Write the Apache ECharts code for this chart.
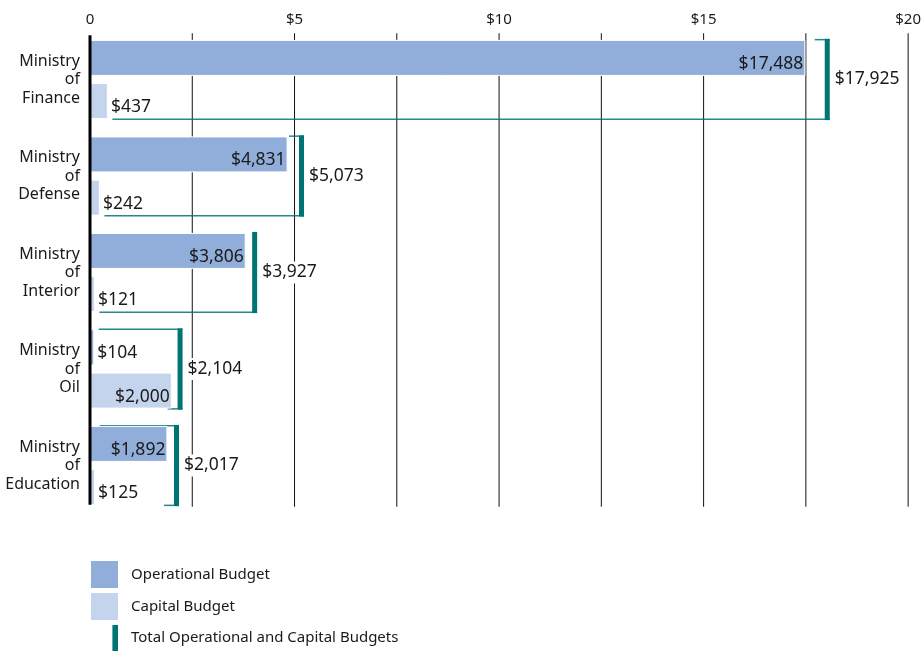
<!DOCTYPE html>
<html>
<head>
<meta charset="utf-8">
<script src="https://cdn.jsdelivr.net/npm/echarts@6/dist/echarts.min.js"></script>
<style>
html,body{margin:0;padding:0;background:#fff;}
#chart{width:924px;height:654px;}
</style>
</head>
<body>
<div id="chart"></div>
<script>
// ---- data (millions of dollars) ----
const categories = ['Ministry of Finance', 'Ministry of Defense', 'Ministry of Interior', 'Ministry of Oil', 'Ministry of Education'];
const operational = [17488, 4831, 3806, 104, 1892];
const capital = [437, 242, 121, 2000, 125];
const totals = [17925, 5073, 3927, 2104, 2017];
const xTickValues = [0, 2500, 5000, 7500, 10000, 12500, 15000, 17500, 20000];
const xTickLabels = ['0', '$5', '$10', '$15', '$20'];
const seriesNames = ['Operational Budget', 'Capital Budget', 'Total Operational and Capital Budgets'];

// ---- styles ----
const FONT = 'Noto Sans';
const TEXT = '#1a1a1a';
const OP_COLOR = '#91add9';
const CAP_COLOR = '#c5d4ed';
const TEAL = '#007373';
const BAR_W = 36;
const BAR_GAP = 0.2;
// connector styling per row: [top line, bottom line]
const connectorStyle = [['short', 'long'], ['short', 'long'], ['none', 'long'], ['long', 'short'], ['long', 'short']];

const fmt = v => '$' + v.toLocaleString('en-US');

function barData(values) {
  return values.map(v => {
    const inside = v > 1000;
    return {
      value: v,
      label: inside
        ? { position: 'insideRight', distance: 2 }
        : { position: 'right', distance: 1, backgroundColor: '#fff', padding: [0, 4, 0, 2] }
    };
  });
}

const barLabel = {
  show: true,
  formatter: p => fmt(p.value),
  fontFamily: FONT,
  fontSize: 17.5,
  color: TEXT,
  offset: [0, 6]
};

const chart = echarts.init(document.getElementById('chart'), null, { renderer: 'canvas' });

function gridLineItem(params, api) {
  const x = api.coord([api.value(0), 0])[0];
  const first = api.coord([0, 0])[1];
  const last = api.coord([0, categories.length - 1])[1];
  const band = api.size([0, 1])[1];
  const isZero = api.value(0) === 0;
  return {
    type: 'line',
    shape: { x1: x, y1: first - band / 2 + (isZero ? 4 : 2), x2: x, y2: last + band / 2 - (isZero ? 9 : 7) },
    style: { stroke: isZero ? '#000' : '#111', lineWidth: isZero ? 3 : 1 }
  };
}

function bracketItem(params, api) {
  const total = api.value(0);
  const i = params.dataIndex;
  const op = api.value(2), cap = api.value(3);
  const c = api.coord([total, i]);
  const half = BAR_W + BAR_W * BAR_GAP / 2;
  const top = c[1] - half - 1;
  const bottom = c[1] + half + 1;
  const x0 = c[0] + 1.5;
  const xr = x0 + 5;
  const longStart = api.coord([Math.min(op, cap), i])[0] + 4.5;
  const children = [{
    type: 'rect',
    shape: { x: x0, y: top, width: 5, height: bottom - top },
    style: { fill: TEAL }
  }];
  const sides = connectorStyle[i];
  [[sides[0], top + 0.75], [sides[1], bottom - 0.75]].forEach(([kind, y]) => {
    if (kind === 'none') return;
    const xs = kind === 'long' ? longStart : x0 - 10;
    children.push({
      type: 'line',
      shape: { x1: xs, y1: y, x2: xr, y2: y },
      style: { stroke: TEAL, lineWidth: 1.5, opacity: 0.85 }
    });
  });
  children.push({
    type: 'text',
    x: xr + 2,
    y: c[1],
    style: {
      text: fmt(total),
      fill: TEXT,
      font: '17.5px "' + FONT + '"',
      verticalAlign: 'middle',
      align: 'left',
      backgroundColor: '#fff',
      padding: [2, 3]
    }
  });
  return { type: 'group', children };
}

const option = {
  animation: false,
  backgroundColor: '#fff',
  grid: { left: 90, width: 820, top: 31.25, height: 482.5, containLabel: false },
  xAxis: {
    type: 'value',
    position: 'top',
    min: 0,
    max: 20000,
    interval: 2500,
    axisLine: { show: false },
    axisTick: { show: false },
    splitLine: { show: false },
    axisLabel: {
      margin: 4,
      fontFamily: FONT,
      fontSize: 15,
      color: TEXT,
      formatter: v => (v % 5000 === 0 ? xTickLabels[v / 5000] : '')
    }
  },
  yAxis: {
    type: 'category',
    inverse: true,
    data: categories,
    axisLine: { show: false },
    axisTick: { show: false },
    axisLabel: {
      margin: 10,
      fontFamily: FONT,
      fontSize: 16,
      lineHeight: 18.5,
      color: TEXT,
      align: 'right',
      formatter: v => v.split(' ').join('\n')
    }
  },
  legend: {
    orient: 'vertical',
    left: 91,
    top: 561,
    height: 140,
    padding: 0,
    itemWidth: 27,
    itemHeight: 27,
    itemGap: 5,
    selectedMode: false,
    itemStyle: { borderWidth: 0 },
    data: [
      { name: seriesNames[0], icon: 'rect' },
      { name: seriesNames[1], icon: 'rect' },
      { name: seriesNames[2], icon: 'path://M0,0 L0.01,0 L0.01,0.01 Z M23,0 L29,0 L29,28 L23,28 Z' }
    ],
    textStyle: { fontFamily: FONT, fontSize: 15, color: TEXT, lineHeight: 20, padding: [4, 0, 0, 8] }
  },
  series: [
    {
      name: 'grid',
      type: 'custom',
      z: 1,
      silent: true,
      renderItem: gridLineItem,
      encode: { x: 0, y: 1 },
      data: xTickValues.filter(v => v > 0).map(v => [v, 0])
    },
    {
      name: seriesNames[0],
      type: 'bar',
      z: 4,
      barWidth: BAR_W,
      barGap: (BAR_GAP * 100) + '%',
      itemStyle: { color: OP_COLOR, borderColor: '#ffffff', borderWidth: 1 },
      label: barLabel,
      data: barData(operational)
    },
    {
      name: seriesNames[1],
      type: 'bar',
      z: 4,
      barWidth: BAR_W,
      barGap: (BAR_GAP * 100) + '%',
      itemStyle: { color: CAP_COLOR, borderColor: '#ffffff', borderWidth: 1 },
      label: barLabel,
      data: barData(capital)
    },
    {
      name: seriesNames[2],
      type: 'custom',
      z: 3,
      itemStyle: { color: TEAL },
      renderItem: bracketItem,
      encode: { x: 0, y: 1 },
      data: totals.map((t, i) => [t, i, operational[i], capital[i]])
    },
    {
      name: 'zero',
      type: 'custom',
      z: 6,
      silent: true,
      renderItem: gridLineItem,
      encode: { x: 0, y: 1 },
      data: [[0, 0]]
    }
  ]
};
chart.setOption(option);
</script>
</body>
</html>
